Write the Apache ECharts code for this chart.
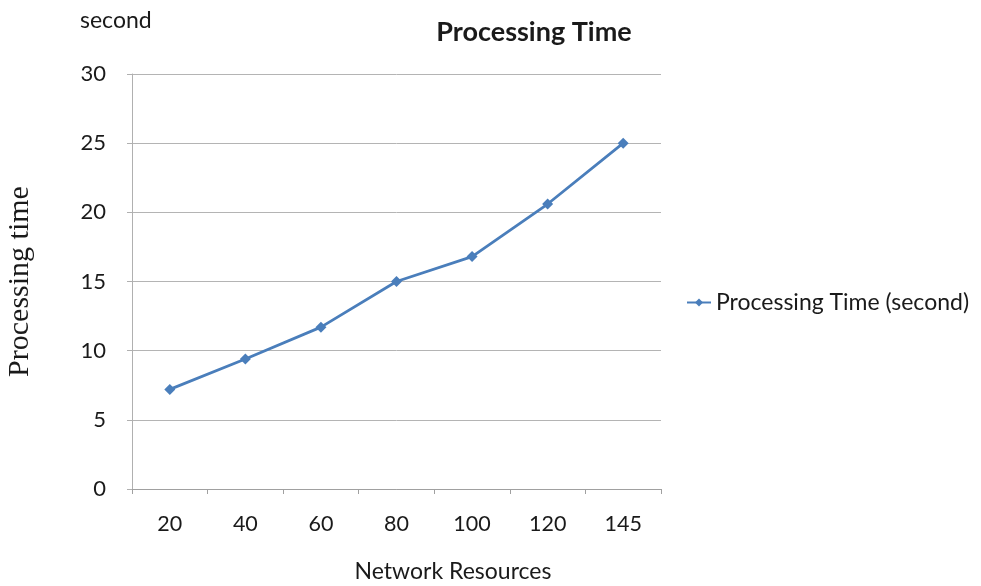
<!DOCTYPE html>
<html>
<head>
<meta charset="utf-8">
<style>
  html, body { margin: 0; padding: 0; background: #ffffff; }
  #chart { width: 981px; height: 586px; }
</style>
<script src="https://cdn.jsdelivr.net/npm/echarts@6/dist/echarts.min.js"></script>
</head>
<body>
<div id="chart"></div>
<script>
// Network resources on the x axis
const categories = ['20', '40', '60', '80', '100', '120', '145'];
// Processing time in seconds
const processingTime = [7.2, 9.4, 11.7, 15.0, 16.8, 20.6, 25.0];
// Value axis ticks
const yTicks = [0, 5, 10, 15, 20, 25, 30];

const seriesName = 'Processing Time (second)';
const lineColor = '#4a7ebb';
const uiFont = 'Lato, "Open Sans", sans-serif';
const textColor = '#1a1a1a';

const chart = echarts.init(document.getElementById('chart'), null, { renderer: 'canvas' });

chart.setOption({
  backgroundColor: '#ffffff',
  animation: false,
  title: [
    {
      text: 'Processing Time',
      left: 529, top: 14,
      textAlign: 'center',
      textStyle: { fontFamily: uiFont, fontWeight: 'bold', fontSize: 27, color: textColor }
    },
    {
      text: 'second',
      left: 75, top: 4,
      textStyle: { fontFamily: uiFont, fontWeight: 'normal', fontSize: 23, color: textColor }
    },
    {
      // x-axis caption, set off to the right of the plot centre
      text: 'Network Resources',
      left: 448, top: 555,
      textAlign: 'center',
      textStyle: { fontFamily: uiFont, fontWeight: 'normal', fontSize: 23, color: textColor }
    }
  ],
  legend: {
    data: [seriesName],
    orient: 'vertical',
    left: 681, top: 286,
    itemWidth: 24, itemHeight: 10,
    textStyle: { fontFamily: uiFont, fontSize: 23, color: textColor }
  },
  grid: { left: 132, right: 320, top: 74, bottom: 97, containLabel: false, outerBoundsMode: 'none' },
  xAxis: {
    type: 'category',
    data: categories,
    boundaryGap: true,
    axisLine: { show: true, lineStyle: { color: '#a0a0a0', width: 1 } },
    axisTick: { show: true, length: 5, alignWithLabel: false, lineStyle: { color: '#a0a0a0' } },
    axisLabel: { margin: 24, fontFamily: uiFont, fontSize: 21.5, color: textColor },
    splitLine: { show: false }
  },
  yAxis: {
    type: 'value',
    min: yTicks[0],
    max: yTicks[yTicks.length - 1],
    interval: yTicks[1] - yTicks[0],
    name: 'Processing time',
    nameLocation: 'middle',
    nameRotate: 90,
    nameGap: 97,
    nameTextStyle: { fontFamily: '"Liberation Serif", "DejaVu Serif", serif', fontSize: 30, color: textColor },
    axisLine: { show: true, lineStyle: { color: '#b0b0b0', width: 1 } },
    axisTick: { show: true, inside: false, length: 5, lineStyle: { color: '#b0b0b0' } },
    axisLabel: { margin: 26, fontFamily: uiFont, fontSize: 22, color: textColor },
    splitLine: { show: true, lineStyle: { color: '#b4b4b4', width: 1 } }
  },
  series: [
    {
      name: seriesName,
      type: 'line',
      data: processingTime,
      symbol: 'diamond',
      symbolSize: 11,
      lineStyle: { color: lineColor, width: 2.8 },
      itemStyle: { color: lineColor },
      emphasis: { disabled: true }
    }
  ]
});
</script>
</body>
</html>
